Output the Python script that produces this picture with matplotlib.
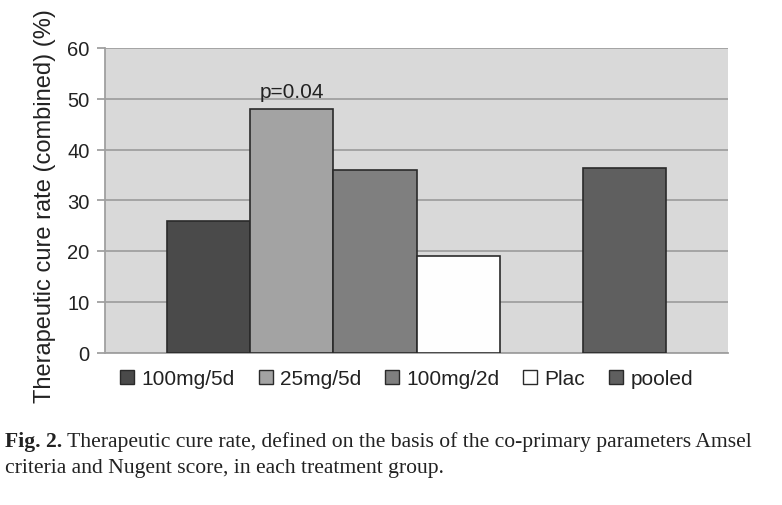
import matplotlib
matplotlib.use("Agg")
import matplotlib.pyplot as plt
from matplotlib.patches import Patch

groups = ["100mg/5d", "25mg/5d", "100mg/2d", "Plac", "pooled"]
cure_rate = [26.0, 48.0, 36.0, 19.1, 36.3]
colors = ["#4a4a4a", "#a3a3a3", "#7f7f7f", "#fefefe", "#5f5f5f"]
slots = [0, 1, 2, 3, 5]
yticks = [0, 10, 20, 30, 40, 50, 60]
annotation = "p=0.04"
caption_bold = "Fig. 2."
caption_line1 = " Therapeutic cure rate, defined on the basis of the co-primary parameters Amsel"
caption_line2 = "criteria and Nugent score, in each treatment group."

plt.rcParams['font.family'] = ['Liberation Sans', 'DejaVu Sans']
TXT = "#222222"

fig = plt.figure(figsize=(7.82, 5.06), dpi=100)
ax = fig.add_axes([105/782, 1-353.5/506, 623/782, 304.5/506])
ax.set_facecolor("#d9d9d9")

centers = [s + 0.5 for s in slots]
ax.bar(centers, cure_rate, width=1.0, color=colors, edgecolor="#2a2a2a", linewidth=1.2, zorder=3)

ax.set_xlim(-0.75, 6.75)
ax.set_ylim(0, 60)
ax.set_yticks(yticks)
ax.set_yticklabels([str(t) for t in yticks], fontsize=14.5, color=TXT)
ax.set_xticks([])
ax.yaxis.grid(True, color="#a0a0a0", linewidth=1.3, zorder=0)
ax.set_axisbelow(True)
for side in ["top", "right"]:
    ax.spines[side].set_visible(False)
for side in ["left", "bottom"]:
    ax.spines[side].set_color("#a0a0a0")
    ax.spines[side].set_linewidth(1.3)
ax.tick_params(axis="y", length=6, width=1.3, color="#a0a0a0", pad=5)

ax.set_ylabel("Therapeutic cure rate (combined) (%)", fontsize=17, color=TXT)
ax.yaxis.set_label_coords(-0.079, 0.485)

ax.text(centers[1], cure_rate[1] + 2.4, annotation, ha="center", va="baseline",
        fontsize=15, color=TXT)

handles = [Patch(facecolor=c, edgecolor="#2a2a2a", linewidth=1.0) for c in colors]
fig.legend(handles, groups, loc="center", bbox_to_anchor=(406.5/782, 1-380/506), ncol=5,
           frameon=False, fontsize=15, handlelength=0.67, handleheight=0.67,
           handletextpad=0.34, columnspacing=1.16, labelcolor=TXT)

# caption, scaled to span the reference width
fig.canvas.draw()
r = fig.canvas.get_renderer()
size0 = 13
tb = fig.text(5/782, 1-447/506, caption_bold, fontsize=size0, fontweight="bold",
              family=["Liberation Serif"], va="baseline", ha="left", color=TXT)
w_b = tb.get_window_extent(r).width
tl = fig.text(0, 1-447/506, caption_line1, fontsize=size0,
              family=["Liberation Serif"], va="baseline", ha="left", color=TXT)
w_l = tl.get_window_extent(r).width
scale = 745 / (w_b + w_l)
size = size0 * scale
tb.set_fontsize(size)
tl.set_fontsize(size)
w_b2 = tb.get_window_extent(r).width
tl.set_x((5 + w_b2) / 782)
fig.text(5/782, 1-473/506, caption_line2, fontsize=size,
         family=["Liberation Serif"], va="baseline", ha="left", color=TXT)

fig.savefig("out.png", dpi=100, facecolor="white")
